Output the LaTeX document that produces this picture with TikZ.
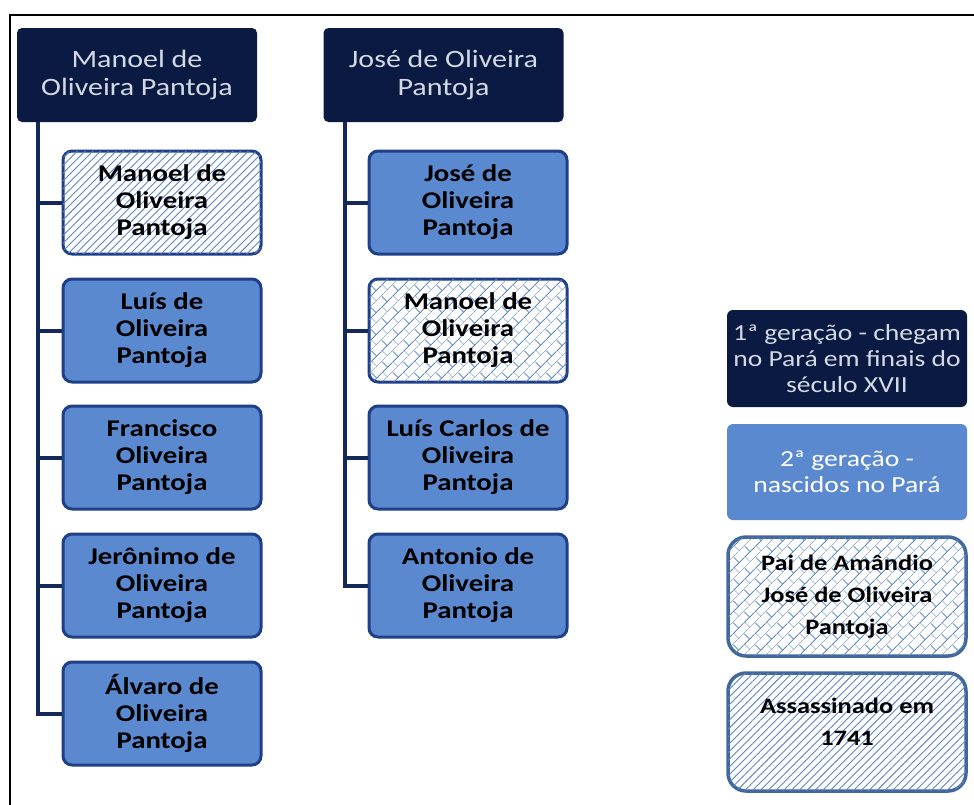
\documentclass[tikz,border=0pt]{standalone}
\usepackage{fontspec}
\setmainfont{Carlito}[FakeStretch=1.2]
\usetikzlibrary{patterns,patterns.meta}
\definecolor{navy}{HTML}{0B1A42}
\definecolor{midblue}{HTML}{5B89CF}
\definecolor{edgeblue}{HTML}{1F3F88}
\definecolor{linkblue}{HTML}{14285A}
\definecolor{legedge}{HTML}{41679B}
\definecolor{hatchblue}{HTML}{5A86C8}
\definecolor{toptext}{HTML}{D3D9E3}
\tikzdeclarepattern{
  name=diagbricks,
  type=uncolored,
  bounding box={(0pt,0pt) and (16pt,16pt)},
  tile size={(16pt,16pt)},
  tile transformation={rotate=45},
  code={
    \pgfsetlinewidth{1pt}
    \draw (0pt,0pt) -- (16pt,0pt);
    \draw (0pt,8pt) -- (16pt,8pt);
    \draw (0pt,0pt) -- (0pt,8pt);
    \draw (8pt,8pt) -- (8pt,16pt);
  }
}
\tikzset{
  topbox/.style={rectangle, rounded corners=5pt, fill=navy, text=toptext,
    minimum width=240pt, minimum height=94pt, align=center,
    font=\fontsize{25}{28}\selectfont},
  childbox/.style={rectangle, rounded corners=9pt, draw=edgeblue, line width=3pt,
    fill=midblue, minimum width=198pt, minimum height=103pt, align=center,
    font=\bfseries\fontsize{24}{27}\selectfont},
  hatched/.style={fill=white, postaction={pattern={Lines[angle=45,distance=5.5pt,line width=0.9pt]}, pattern color=hatchblue}},
  bricked/.style={fill=white, postaction={pattern=diagbricks, pattern color=hatchblue}},
  legbox/.style={rectangle, rounded corners=6pt, minimum width=240pt, align=center,
    font=\fontsize{23}{26}\selectfont},
  legpat/.style={rectangle, rounded corners=18pt, draw=legedge, line width=3.5pt,
    minimum width=238pt, align=center, font=\bfseries\fontsize{22}{32}\selectfont},
  link/.style={draw=linkblue, line width=4pt},
}
\begin{document}
\begin{tikzpicture}[x=1pt,y=-1pt]
\useasboundingbox (0,0) rectangle (974,804);
\draw[line width=2pt] (10,805) -- (10,15) -- (975,15);

% top boxes
\node[topbox] (t1) at (137,75) {Manoel de\\Oliveira Pantoja};
\node[topbox] (t2) at (443.5,75) {José de Oliveira\\Pantoja};

\coordinate (s1) at (38,122);
\coordinate (s2) at (345,122);

% column 1 children
\node[childbox, hatched] (a1) at (162,202.5) {Manoel de\\Oliveira\\Pantoja};
\node[childbox] (a2) at (162,330.5) {Luís de\\Oliveira\\Pantoja};
\node[childbox] (a3) at (162,457.5) {Francisco\\Oliveira\\Pantoja};
\node[childbox] (a4) at (162,585.5) {Jerônimo de\\Oliveira\\Pantoja};
\node[childbox] (a5) at (162,713.5) {Álvaro de\\Oliveira\\Pantoja};

% column 2 children
\node[childbox] (b1) at (468,202.5) {José de\\Oliveira\\Pantoja};
\node[childbox, bricked] (b2) at (468,330.5) {Manoel de\\Oliveira\\Pantoja};
\node[childbox] (b3) at (468,457.5) {Luís Carlos de\\Oliveira\\Pantoja};
\node[childbox] (b4) at (468,585.5) {Antonio de\\Oliveira\\Pantoja};

% connectors
\draw[link] (s1) |- (a5.west);
\foreach \n in {a1,a2,a3,a4} \draw[link] (\n.west) -- (\n.west -| s1);
\draw[link] (s2) |- (b4.west);
\foreach \n in {b1,b2,b3} \draw[link] (\n.west) -- (\n.west -| s2);

% legend
\node[legbox, fill=navy, text=toptext, minimum height=97pt] (l1) at (847,358.5) {1ª geração - chegam\\no Pará em finais do\\século XVII};
\node[legbox, fill=midblue, text=white, minimum height=96pt] (l2) at (847,472) {2ª geração -\\nascidos no Pará};
\node[legpat, bricked, minimum height=119pt] (l3) at (847,596.5) {Pai de Amândio\\José de Oliveira\\Pantoja};
\node[legpat, hatched, minimum height=118pt, text depth=20pt] (l4) at (847,732) {Assassinado em\\1741};
\end{tikzpicture}
\end{document}
